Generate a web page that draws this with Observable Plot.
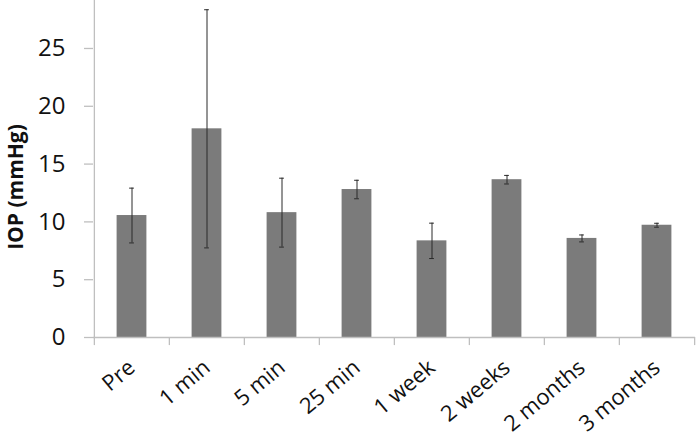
<!DOCTYPE html>
<html>
<head>
<meta charset="utf-8">
<script src="https://cdn.jsdelivr.net/npm/d3@7"></script>
<script src="https://cdn.jsdelivr.net/npm/@observablehq/plot@0.6"></script>
<style>
  html, body { margin: 0; padding: 0; background: #fff; }
  #chart svg { display: block; }
</style>
</head>
<body>
<div id="chart"></div>
<script>
const categories = ["Pre", "1 min", "5 min", "25 min", "1 week", "2 weeks", "2 months", "3 months"];
const means = [10.55, 18.05, 10.8, 12.8, 8.36, 13.65, 8.57, 9.71];
const errors = [2.37, 10.3, 2.98, 0.8, 1.53, 0.37, 0.3, 0.17];
const yTicks = [0, 5, 10, 15, 20, 25];
const yLabel = "IOP (mmHg)";

const data = categories.map((c, i) => ({cat: c, mean: means[i], err: errors[i]}));

const W = 697, H = 440, mL = 93, mR = 2, mT = 0, mB = 103;
const band = (W - mL - mR) / categories.length;
const half = band / 2;
const axisGray = "#bfbfbf";
const textColor = "#111";
const font = "'Open Sans', sans-serif";

const chart = Plot.plot({
  width: W,
  height: H,
  marginLeft: mL,
  marginRight: mR,
  marginTop: mT,
  marginBottom: mB,
  style: {fontFamily: font, background: "#fff"},
  x: {type: "band", domain: categories, padding: 0},
  y: {domain: [0, 29.15]},
  marks: [
    Plot.barY(data, {x: "cat", y: "mean", fill: "#7b7b7b", insetLeft: 22.6, insetRight: 22.6}),
    // y axis line (left edge of the first band)
    Plot.ruleX([categories[0]], {x: d => d, dx: -half, stroke: axisGray, strokeWidth: 1.3}),
    // x axis line
    Plot.ruleY([0], {stroke: axisGray, strokeWidth: 1.3}),
    // category boundary ticks below the axis
    Plot.ruleX(categories, {x: d => d, dx: -half, y1: 0, y2: -0.7, stroke: axisGray, strokeWidth: 1.3}),
    Plot.ruleX([categories[categories.length - 1]], {x: d => d, dx: half, y1: 0, y2: -0.7, stroke: axisGray, strokeWidth: 1.3}),
    // error bars
    Plot.ruleX(data, {x: "cat", y1: d => d.mean - d.err, y2: d => d.mean + d.err, stroke: "#2a2a2a", strokeWidth: 1}),
    Plot.tickY(data, {x: "cat", y: d => d.mean + d.err, insetLeft: half - 2.5, insetRight: half - 2.5, stroke: "#2a2a2a", strokeWidth: 1}),
    Plot.tickY(data, {x: "cat", y: d => d.mean - d.err, insetLeft: half - 2.5, insetRight: half - 2.5, stroke: "#2a2a2a", strokeWidth: 1}),
    Plot.axisY({ticks: yTicks, tickSize: 9, tickPadding: 19, stroke: axisGray, strokeWidth: 1.3, fill: textColor, fontSize: 24, label: null}),
    Plot.axisX({tickSize: 0, tickPadding: 27, tickRotate: -40, fontSize: 22, fill: textColor, label: null}),
    Plot.text([yLabel], {text: d => d, frameAnchor: "left", textAnchor: "middle", rotate: -90, dx: -77, dy: 18, fontSize: 21, fontWeight: "bold", fill: textColor, style: {letterSpacing: "1.5px"}})
  ]
});
document.getElementById("chart").appendChild(chart);
</script>
</body>
</html>
